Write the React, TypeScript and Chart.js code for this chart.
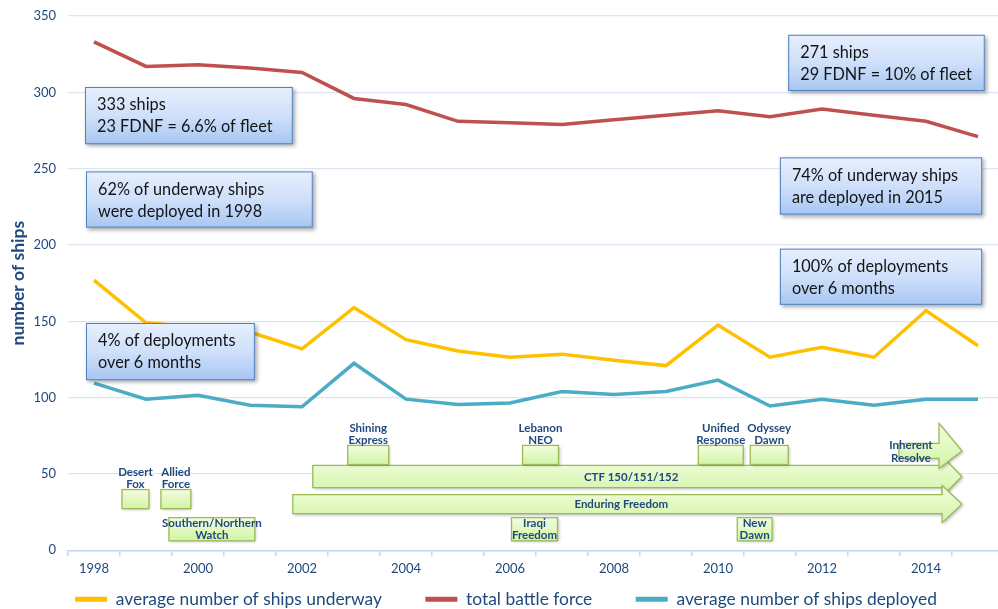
import React, { useEffect, useRef } from "react";
import { Chart, registerables } from "chart.js";

Chart.register(...registerables);

// ---------- data ----------
const years = ["1998", "1999", "2000", "2001", "2002", "2003", "2004", "2005", "2006", "2007", "2008", "2009", "2010", "2011", "2012", "2013", "2014", "2015"];
const shownYearLabels = ["1998", "2000", "2002", "2004", "2006", "2008", "2010", "2012", "2014"];
const underway = [177, 149, 146, 143, 132, 159, 138, 130.5, 126.5, 128.5, 124.5, 121, 147.5, 126.5, 133, 126.5, 157, 134];
const totalBattleForce = [333, 317, 318, 316, 313, 296, 292, 281, 280, 279, 282, 285, 288, 284, 289, 285, 281, 271];
const deployed = [109.5, 99, 101.5, 95, 94, 122.5, 99, 95.5, 96.5, 104, 102, 104, 111.5, 94.5, 99, 95, 99, 99];
const yMin = 0;
const yMax = 350;
const yStep = 50;
const seriesNames = ["average number of ships underway", "total battle force", "average number of ships deployed"];

// callout notes: text lines + extent in (category index, value) units
const calloutTexts = [
  ["333 ships", "23 FDNF = 6.6% of fleet"],
  ["62% of underway ships", "were deployed in 1998"],
  ["4% of deployments", "over 6 months"],
  ["271 ships", "29 FDNF = 10% of fleet"],
  ["74% of underway ships", "are deployed in 2015"],
  ["100% of deployments", "over 6 months"],
];
const calloutExtents = [
  [-0.173, 3.823, 303.5, 266.0],
  [-0.154, 4.207, 248.2, 211.4],
  [-0.154, 3.093, 148.9, 111.4],
  [13.35, 17.13, 337.7, 300.9],
  [13.19, 17.08, 257.4, 219.9],
  [13.19, 17.08, 197.6, 160.8],
];

// operations: boxes (label placed "above" or "inside")
const operationNames = [
  ["Desert", "Fox"],
  ["Allied", "Force"],
  ["Southern/Northern", "Watch"],
  ["Shining", "Express"],
  ["Lebanon", "NEO"],
  ["Iraqi", "Freedom"],
  ["Unified", "Response"],
  ["Odyssey", "Dawn"],
  ["New", "Dawn"],
];
const operationExtents = [
  [0.538, 1.056, 39.8, 27.3],
  [1.287, 1.863, 39.8, 27.3],
  [1.441, 3.093, 21.4, 6.2],
  [4.879, 5.667, 68.7, 56.2],
  [8.241, 8.932, 68.7, 56.2],
  [8.029, 8.913, 21.4, 6.2],
  [11.621, 12.485, 68.7, 56.2],
  [12.62, 13.35, 68.7, 56.2],
  [12.37, 13.04, 21.4, 6.2],
];
const operationLabelPlacement = ["above", "above", "inside", "above", "above", "inside", "above", "above", "inside"];

// ongoing operations: arrows [start, headStart, tip, bodyTop, bodyBottom, headTop, headBottom, labelX]
const arrowNames = [["CTF 150/151/152"], ["Enduring Freedom"], ["Inherent", "Resolve"]];
const arrowExtents = [
  [4.207, 16.31, 16.69, 55.6, 41.1, 61.5, 35.2, 10.33],
  [3.823, 16.31, 16.69, 36.5, 24.0, 42.4, 18.1, 10.14],
  [15.48, 16.25, 16.69, 70.0, 60.2, 83.2, 53.6, 15.71],
];

const FONT = "Lato, 'Open Sans', sans-serif";
const TEXT_BLUE = "#1F497D";

const annotationPlugin = {
  id: "navyAnnotations",
  afterDatasetsDraw(chart: any) {
    const ctx = chart.ctx as CanvasRenderingContext2D;
    const xs = chart.scales.x;
    const ys = chart.scales.y;
    const x0 = xs.getPixelForValue(0);
    const dx = xs.getPixelForValue(1) - x0;
    const px = (i: number) => x0 + i * dx;
    const py = (v: number) => ys.getPixelForValue(v);

    const greenFill = (top: number, bottom: number) => {
      const g = ctx.createLinearGradient(0, top, 0, bottom);
      g.addColorStop(0, "#f2fde0");
      g.addColorStop(1, "#d2f4a4");
      return g;
    };

    // arrows
    arrowExtents.forEach((a, k) => {
      const [s, hs, tip, bt, bb, ht, hb, lx] = a;
      const xS = px(s), xH = px(hs), xT = px(tip);
      const yBT = py(bt), yBB = py(bb), yHT = py(ht), yHB = py(hb);
      const yMid = (yBT + yBB) / 2;
      ctx.save();
      ctx.shadowColor = "rgba(0,0,0,0.28)";
      ctx.shadowBlur = 3;
      ctx.shadowOffsetX = 1.5;
      ctx.shadowOffsetY = 1.5;
      ctx.beginPath();
      ctx.moveTo(xS, yBT);
      ctx.lineTo(xH, yBT);
      ctx.lineTo(xH, yHT);
      ctx.lineTo(xT, yMid);
      ctx.lineTo(xH, yHB);
      ctx.lineTo(xH, yBB);
      ctx.lineTo(xS, yBB);
      ctx.closePath();
      ctx.fillStyle = greenFill(yHT, yHB);
      ctx.fill();
      ctx.shadowColor = "transparent";
      ctx.strokeStyle = "#9BBB59";
      ctx.lineWidth = 1.3;
      ctx.stroke();
      ctx.restore();

      const lines = arrowNames[k];
      ctx.save();
      ctx.fillStyle = TEXT_BLUE;
      ctx.font = `bold 11.5px ${FONT}`;
      ctx.textAlign = "center";
      ctx.textBaseline = "middle";
      if (lines.length === 1) {
        ctx.fillText(lines[0], px(lx), yMid + 0.5);
      } else {
        ctx.fillText(lines[0], px(lx), yMid - 6);
        ctx.fillText(lines[1], px(lx), yMid + 7);
      }
      ctx.restore();
    });

    // operation boxes
    operationExtents.forEach((e, k) => {
      const [l, r, t, b] = e;
      const L = px(l), R = px(r), T = py(t), B = py(b);
      ctx.save();
      ctx.shadowColor = "rgba(0,0,0,0.28)";
      ctx.shadowBlur = 3;
      ctx.shadowOffsetX = 1.5;
      ctx.shadowOffsetY = 1.5;
      ctx.fillStyle = greenFill(T, B);
      ctx.fillRect(L, T, R - L, B - T);
      ctx.shadowColor = "transparent";
      ctx.strokeStyle = "#9BBB59";
      ctx.lineWidth = 1.3;
      ctx.strokeRect(L, T, R - L, B - T);
      ctx.restore();

      const lines = operationNames[k];
      const cx = (L + R) / 2;
      ctx.save();
      ctx.fillStyle = TEXT_BLUE;
      ctx.font = `bold 11.5px ${FONT}`;
      ctx.textAlign = "center";
      ctx.textBaseline = "middle";
      if (operationLabelPlacement[k] === "above") {
        ctx.fillText(lines[0], cx, T - 17);
        ctx.fillText(lines[1], cx, T - 5);
      } else {
        ctx.fillText(lines[0], cx, T + 5.5);
        ctx.fillText(lines[1], cx, T + 17.5);
      }
      ctx.restore();
    });

    // callouts
    calloutExtents.forEach((e, k) => {
      const [l, r, t, b] = e;
      const L = px(l), R = px(r), T = py(t), B = py(b);
      ctx.save();
      ctx.shadowColor = "rgba(0,0,0,0.35)";
      ctx.shadowBlur = 4;
      ctx.shadowOffsetX = 2;
      ctx.shadowOffsetY = 2;
      const g = ctx.createLinearGradient(0, T, 0, B);
      g.addColorStop(0, "#e6effd");
      g.addColorStop(0.5, "#cfe0fa");
      g.addColorStop(1, "#a7c6f2");
      ctx.fillStyle = g;
      ctx.fillRect(L, T, R - L, B - T);
      ctx.shadowColor = "transparent";
      ctx.strokeStyle = "#4F81BD";
      ctx.lineWidth = 1;
      ctx.strokeRect(L + 0.5, T + 0.5, R - L - 1, B - T - 1);
      ctx.fillStyle = "#141414";
      ctx.font = `16.3px ${FONT}`;
      ctx.textAlign = "left";
      ctx.textBaseline = "middle";
      const lines = calloutTexts[k];
      ctx.fillText(lines[0], L + 12, T + 18);
      ctx.fillText(lines[1], L + 12, T + 40);
      ctx.restore();
    });
  },
};

export default function App() {
  const canvasRef = useRef<HTMLCanvasElement | null>(null);

  useEffect(() => {
    if (!canvasRef.current) return;
    const baseGenerate = (Chart as any).defaults.plugins.legend.labels.generateLabels;
    const chart = new Chart(canvasRef.current, {
      type: "line",
      data: {
        labels: years,
        datasets: [
          {
            label: seriesNames[0],
            data: underway,
            borderColor: "#FFC000",
            backgroundColor: "#FFC000",
            borderWidth: 3.5,
            pointRadius: 0,
            tension: 0,
          },
          {
            label: seriesNames[1],
            data: totalBattleForce,
            borderColor: "#C0504D",
            backgroundColor: "#C0504D",
            borderWidth: 3.5,
            pointRadius: 0,
            tension: 0,
          },
          {
            label: seriesNames[2],
            data: deployed,
            borderColor: "#4BACC6",
            backgroundColor: "#4BACC6",
            borderWidth: 3.5,
            pointRadius: 0,
            tension: 0,
          },
        ],
      },
      options: {
        animation: false,
        responsive: false,
        devicePixelRatio: 1,
        layout: { padding: { left: 8, right: 2, top: 16, bottom: 0 } },
        scales: {
          x: {
            type: "category",
            offset: true,
            grid: {
              offset: true,
              drawOnChartArea: false,
              drawTicks: true,
              tickLength: 6,
              color: "#C6D7EE",
              lineWidth: 1.5,
            },
            border: { color: "#C6D7EE", width: 1.5 },
            ticks: {
              autoSkip: false,
              maxRotation: 0,
              padding: 5,
              color: TEXT_BLUE,
              font: { family: FONT, size: 13 },
              callback: (_v: any, i: number) => (shownYearLabels.includes(years[i]) ? years[i] : ""),
            },
          },
          y: {
            min: yMin,
            max: yMax,
            afterFit: (s: any) => {
              s.width = 60;
              s.paddingTop = 0;
              s.paddingBottom = 0;
            },
            ticks: {
              stepSize: yStep,
              padding: 12,
              color: TEXT_BLUE,
              font: { family: FONT, size: 13 },
            },
            grid: { color: "#DCE6F3", lineWidth: 1.2, drawTicks: false },
            border: { display: false },
            title: {
              display: true,
              text: "number of ships",
              color: TEXT_BLUE,
              font: { family: FONT, size: 17.5, weight: "bold" },
              padding: { top: 0, bottom: 0 },
            },
          },
        },
        plugins: {
          legend: {
            position: "bottom",
            labels: {
              boxWidth: 32,
              boxHeight: 5,
              padding: 8.7,
              color: TEXT_BLUE,
              font: { family: FONT, size: 17.4 },
              generateLabels: (c: any) =>
                baseGenerate(c).map((item: any, i: number, arr: any[]) => ({
                  ...item,
                  lineWidth: 0,
                  text: i < arr.length - 1 ? item.text + "\u2002\u2002\u2002\u2002" : item.text,
                })),
            },
          },
          tooltip: { enabled: false },
        },
      },
      plugins: [annotationPlugin],
    } as any);
    return () => chart.destroy();
  }, []);

  return (
    <div style={{ position: "fixed", left: 0, top: 0, width: 998, height: 609, overflow: "hidden", background: "#fff" }}>
      <canvas ref={canvasRef} width={1006} height={618} style={{ display: "block" }} />
    </div>
  );
}
